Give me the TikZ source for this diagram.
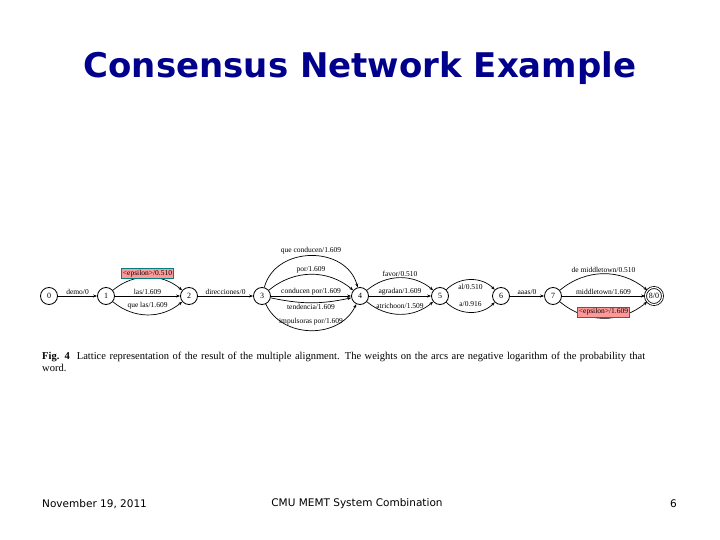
\documentclass[tikz,border=0pt]{standalone}
\usepackage{fontspec}
\setmainfont{Liberation Serif}
\newfontfamily\ttl{DejaVu Sans}
\newfontfamily\foot{DejaVu Sans}
\usetikzlibrary{arrows.meta}
\definecolor{navy}{RGB}{0,0,140}
\begin{document}
\begin{tikzpicture}[x=1pt,y=-1pt,
  st/.style={circle,draw,line width=0.8pt,minimum size=17pt,inner sep=0pt,font=\fontsize{8}{9}\selectfont},
  ar/.style={draw,line width=0.7pt,-{Stealth[length=4pt]}},
  lb/.style={font=\fontsize{7.5}{8}\selectfont,inner sep=1pt},
  lo/.style={lb,above,yshift=4pt},
  hi/.style={lb,below,yshift=-3pt},
  eps/.style={lb,fill=red!40,draw=teal,line width=0.5pt,inner sep=1.5pt}]
\useasboundingbox (0,0) rectangle (720,540);
\node[font=\ttl\bfseries\fontsize{34}{40}\selectfont,text=navy] (title) at (360,68) {Consensus Network Example};
\node[st] (n0) at (49,296) {0};
\node[st] (n1) at (106,296) {1};
\node[st] (n2) at (189,296) {2};
\node[st] (n3) at (262,296) {3};
\node[st] (n4) at (360,296) {4};
\node[st] (n5) at (440,296) {5};
\node[st] (n6) at (501,296) {6};
\node[st] (n7) at (553,296) {7};
\node[st,double,double distance=1.2pt] (n8) at (654,296) {8/0};
\draw[ar] (n0) -- node[lb,above]{demo/0} (n1);
\draw[ar] (n1) to[out=40,in=140] node[eps,pos=0.5,yshift=4pt]{<epsilon>/0.510} (n2);
\draw[ar] (n1) -- node[lb,above]{las/1.609} (n2);
\draw[ar] (n1) to[out=-40,in=-140] node[lo]{que las/1.609} (n2);
\draw[ar] (n2) -- node[lb,above]{direcciones/0} (n3);
\draw[ar] (n3) to[out=75,in=105,looseness=1.2] node[lb,above]{que conducen/1.609} (n4);
\draw[ar] (n3) to[out=40,in=140] node[lb,above]{por/1.609} (n4);
\draw[ar] (n3) -- node[lb,above]{conducen por/1.609} (n4);
\draw[ar] (n3) to[out=-12,in=-168] node[lb,below]{tendencia/1.609} (n4);
\draw[ar] (n3) to[out=-65,in=-115,looseness=1.1] node[lo]{impulsoras por/1.609} (n4);
\draw[ar] (n4) to[out=40,in=140] node[lb,above]{favor/0.510} (n5);
\draw[ar] (n4) -- node[lb,above]{agradan/1.609} (n5);
\draw[ar] (n4) to[out=-40,in=-140] node[lo]{atrichoon/1.509} (n5);
\draw[ar] (n5) to[out=45,in=135] node[hi]{al/0.510} (n6);
\draw[ar] (n5) to[out=-45,in=-135] node[lo]{a/0.916} (n6);
\draw[ar] (n6) -- node[lb,above]{aaas/0} (n7);
\draw[ar] (n7) to[out=40,in=140] node[lb,above]{de middletown/0.510} (n8);
\draw[ar] (n7) -- node[lb,above]{middletown/1.609} (n8);
\draw[ar] (n7) to[out=-40,in=-140] node[eps,pos=0.5,yshift=6pt]{<epsilon>/1.609} (n8);
\node[font=\fontsize{10.5}{12}\selectfont,anchor=north west,text width=615pt,inner sep=0pt] (cap) at (42,352) {\textbf{Fig. 4}\ \ Lattice representation of the result of the multiple alignment. The weights on the arcs are negative logarithm of the probability that word.};
\node[font=\foot\fontsize{10.5}{12}\selectfont,anchor=west,inner sep=0pt] (f1) at (42,504) {November 19, 2011};
\node[font=\foot\fontsize{10.5}{12}\selectfont,inner sep=0pt] (f2) at (357,504) {CMU MEMT System Combination};
\node[font=\foot\fontsize{10.5}{12}\selectfont,anchor=east,inner sep=0pt] (f3) at (677,504) {6};
\end{tikzpicture}
\end{document}
